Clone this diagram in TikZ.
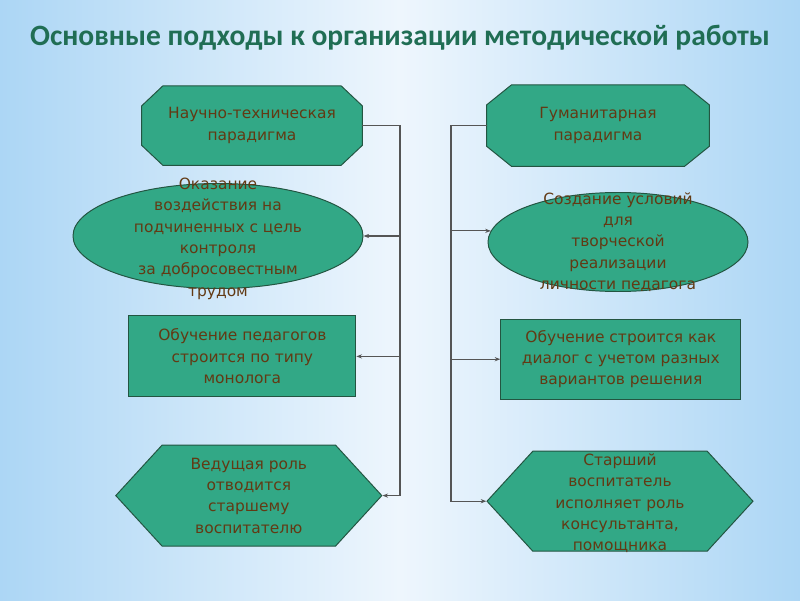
\documentclass[tikz,border=0pt]{standalone}
\usepackage{fontspec}
\setmainfont{DejaVu Sans}
\newfontfamily\titlefont{Carlito}
\usetikzlibrary{shapes.geometric, shapes.symbols, arrows.meta, calc, backgrounds}
\definecolor{boxgreen}{RGB}{50,168,134}
\definecolor{boxedge}{RGB}{35,85,65}
\definecolor{textbrown}{RGB}{98,58,20}
\definecolor{titlegreen}{RGB}{32,110,84}
\definecolor{bgblue}{RGB}{172,214,245}
\definecolor{bgmid}{RGB}{238,246,253}
\definecolor{linegray}{RGB}{85,85,85}

\tikzset{
  shapebox/.style={fill=boxgreen, draw=boxedge, line width=0.7pt, inner sep=0pt},
  octbox/.style={rectangle, inner sep=0pt},
  ellbox/.style={shapebox, ellipse},
  rectbox/.style={shapebox, rectangle},
  hexbox/.style={shapebox, signal, signal to=west and east, signal pointer angle=95},
  boxtext/.style={text=textbrown, font=\fontsize{11}{15.2}\selectfont, align=center},
  bus/.style={draw=linegray, line width=0.8pt},
  branch/.style={bus, -{Stealth[length=4pt, width=3pt]}}
}

\begin{document}
\begin{tikzpicture}

  % фон
  \begin{scope}[on background layer]
    \shade[left color=bgblue, right color=bgblue, middle color=bgmid]
      (0,0) rectangle (20,15);
  \end{scope}
  \useasboundingbox (0,0) rectangle (20,15);

  % заголовок
  \node[titlegreen, font=\titlefont\bfseries\fontsize{21}{25}\selectfont] (title) at (10,14.05)
    {Основные подходы к организации методической работы};

  % левая колонка
  \node[octbox, boxtext, minimum width=5.5cm, minimum height=1.975cm] (o1) at (6.3,11.86)
    {Научно-техническая\\парадигма};
  \node[ellbox, minimum width=7.25cm, minimum height=2.625cm] (e1) at (5.45,9.1) {};
  \node[boxtext] (t1) at (5.45,9.03)
    {Оказание\\воздействия на\\подчиненных с цель\\контроля\\за добросовестным\\трудом};
  \node[rectbox, boxtext, minimum width=5.675cm, minimum height=2.025cm] (r1) at (6.06,6.09)
    {Обучение педагогов\\строится по типу\\монолога};
  \node[hexbox, boxtext, minimum width=6.65cm, minimum height=2.525cm] (h1) at (6.22,2.61)
    {Ведущая роль\\отводится\\старшему\\воспитателю};

  % правая колонка
  \node[octbox, boxtext, minimum width=5.55cm, minimum height=2.025cm] (o2) at (14.95,11.86)
    {Гуманитарная\\парадигма};
  \node[ellbox, minimum width=6.5cm, minimum height=2.475cm] (e2) at (15.45,8.95) {};
  \node[boxtext] (t2) at (e2.center)
    {Создание условий\\для\\творческой\\реализации\\личности педагога};
  \node[rectbox, boxtext, minimum width=6cm, minimum height=2cm] (r2) at (15.52,6.02)
    {Обучение строится как\\диалог с учетом разных\\вариантов решения};
  \node[hexbox, minimum width=6.65cm, minimum height=2.5cm] (h2) at (15.5,2.47) {};
  \node[boxtext] (t4) at (15.5,2.42)
    {Старший\\воспитатель\\исполняет роль\\консультанта,\\помощника};

  % восьмиугольники под текстом
  \begin{scope}[on background layer]
    \foreach \n/\cx/\cy in {o1/0.53/0.5, o2/0.62/0.5}
      \filldraw[shapebox]
        ($(\n.north west)+(\cx,0)$) -- ($(\n.north east)+(-\cx,0)$)
        -- ($(\n.north east)+(0,-\cy)$) -- ($(\n.south east)+(0,\cy)$)
        -- ($(\n.south east)+(-\cx,0)$) -- ($(\n.south west)+(\cx,0)$)
        -- ($(\n.south west)+(0,\cy)$) -- ($(\n.north west)+(0,-\cy)$) -- cycle;
  \end{scope}

  % шины
  \coordinate (lbus) at (10,6);
  \coordinate (rbus) at (11.275,6);

  \draw[branch] (o1.east) -| (lbus) |- (h1.east);
  \draw[branch] (lbus |- e1.east) -- (e1.east);
  \draw[branch] (lbus |- r1.east) -- (r1.east);

  \draw[branch] (o2.west) -| (rbus) |- (h2.west);
  \draw[branch] (rbus |- e2.175) -- (e2.175);
  \draw[branch] (rbus |- r2.west) -- (r2.west);

\end{tikzpicture}
\end{document}
